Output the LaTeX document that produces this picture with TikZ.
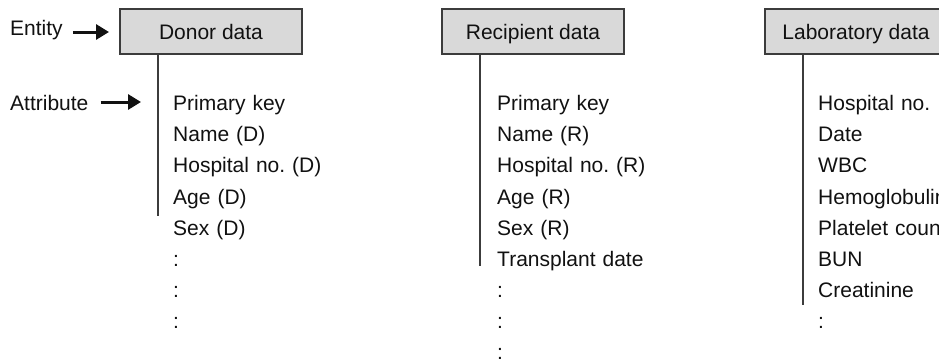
\documentclass[tikz,border=0pt]{standalone}
\usepackage{fontspec}
\setmainfont{Liberation Sans}
\usetikzlibrary{positioning,arrows.meta}
\definecolor{boxgray}{HTML}{D9D9D9}
\definecolor{edgegray}{HTML}{3C3C3C}
\definecolor{inkblack}{HTML}{111111}
\frenchspacing

\begin{document}
\begin{tikzpicture}[x=1pt, y=1pt, node distance=0pt,
    font=\fontsize{21pt}{25pt}\selectfont, text=inkblack,
    entbox/.style={draw=edgegray, line width=1.3pt, fill=boxgray,
        minimum width=182pt, minimum height=45pt, inner sep=0pt,
        text height=15pt, text depth=0pt},
    attrow/.style={inner sep=0pt, text width=170pt, align=left,
        text height=15pt, text depth=15.7pt},
    tag/.style={inner sep=0pt, anchor=base west},
    stem/.style={draw=edgegray, line width=1.3pt},
    pointer/.style={draw=inkblack, line width=3pt,
        -{Triangle[length=13pt,width=15pt]}}]
  \useasboundingbox (0,0) rectangle (939,-359);
  \clip (0,0) rectangle (939,-359);

  % entities
  \node[entbox] (donor) at (211,-31.5) {Donor data};
  \node[entbox] (recip) at (533,-31.5) {Recipient data};
  \node[entbox] (lab) at (856,-31.5) {Laboratory data};

  % legend
  \node[tag] (entity) at (10,-35) {Entity};
  \node[tag] (attrib) at (10,-110) {Attribute};
  \coordinate (enttip) at (109,-32);
  \coordinate (attrtip) at (141,-102);
  \draw[pointer, shorten <=10pt] (entity.east |- enttip) -- (enttip);
  \draw[pointer, shorten <=12pt] (attrib.east |- attrtip) -- (attrtip);

  % donor attributes
  \node[attrow, anchor=north west] (d1) at (173,-95.5) {Primary key};
  \node[attrow, below=of d1] (d2) {Name (D)};
  \node[attrow, below=of d2] (d3) {Hospital no. (D)};
  \node[attrow, below=of d3] (d4) {Age (D)};
  \node[attrow, below=of d4] (d5) {Sex (D)};
  \node[attrow, below=of d5] (d6) {:};
  \node[attrow, below=of d6] (d7) {:};
  \node[attrow, below=of d7] (d8) {:};

  % recipient attributes
  \node[attrow, anchor=north west] (r1) at (497,-95.5) {Primary key};
  \node[attrow, below=of r1] (r2) {Name (R)};
  \node[attrow, below=of r2] (r3) {Hospital no. (R)};
  \node[attrow, below=of r3] (r4) {Age (R)};
  \node[attrow, below=of r4] (r5) {Sex (R)};
  \node[attrow, below=of r5] (r6) {Transplant date};
  \node[attrow, below=of r6] (r7) {:};
  \node[attrow, below=of r7] (r8) {:};
  \node[attrow, below=of r8] (r9) {:};

  % laboratory attributes
  \node[attrow, anchor=north west] (l1) at (818,-95.5) {Hospital no.};
  \node[attrow, below=of l1] (l2) {Date};
  \node[attrow, below=of l2] (l3) {WBC};
  \node[attrow, below=of l3] (l4) {Hemoglobulin};
  \node[attrow, below=of l4] (l5) {Platelet count};
  \node[attrow, below=of l5] (l6) {BUN};
  \node[attrow, below=of l6] (l7) {Creatinine};
  \node[attrow, below=of l7] (l8) {:};

  % stems
  \coordinate (dfoot) at (158,-216);
  \coordinate (rfoot) at (480,-266);
  \coordinate (lfoot) at (803,-305);
  \draw[stem] (donor.south -| dfoot) -- (dfoot);
  \draw[stem] (recip.south -| rfoot) -- (rfoot);
  \draw[stem] (lab.south -| lfoot) -- (lfoot);
\end{tikzpicture}
\end{document}
